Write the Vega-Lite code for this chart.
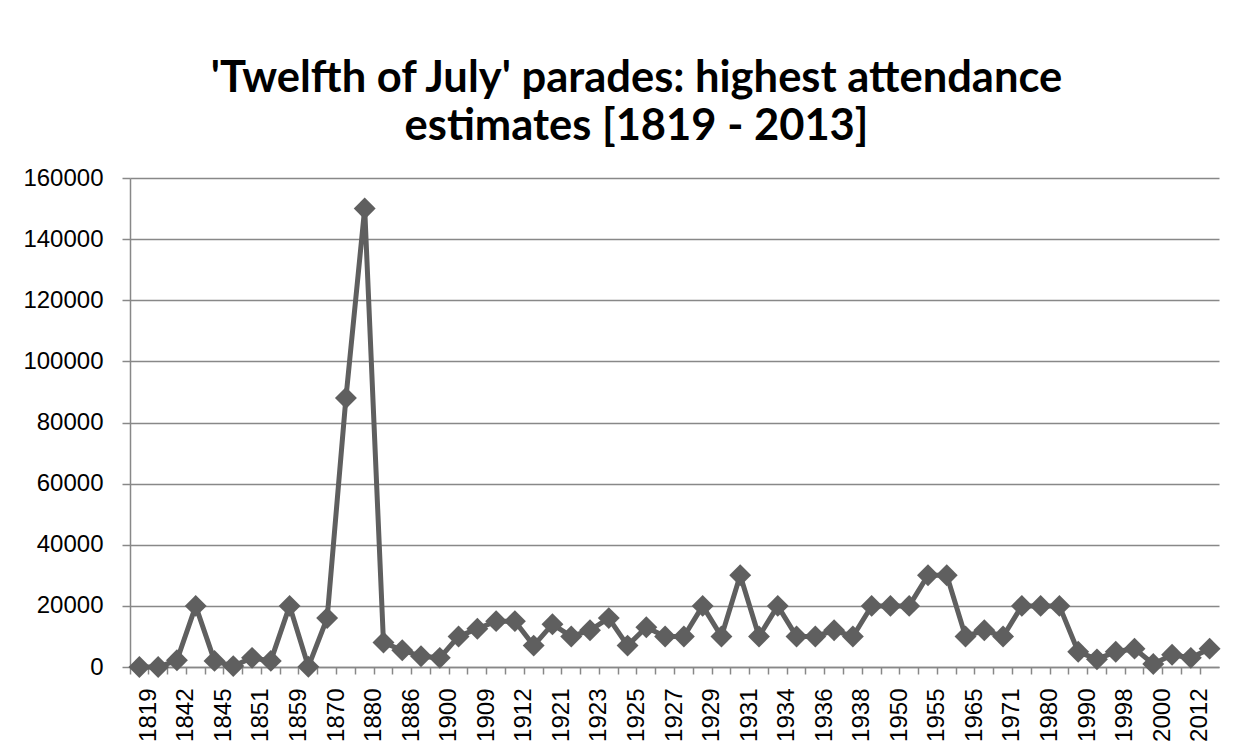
{
  "$schema": "https://vega.github.io/schema/vega-lite/v6.json",
  "width": 1089,
  "height": 489,
  "autosize": {"type": "none"},
  "padding": {"left": 130, "top": 178, "right": 28, "bottom": 86},
  "background": "white",
  "title": {
    "text": ["'Twelfth of July' parades: highest attendance", "estimates [1819 - 2013]"],
    "font": "Lato",
    "fontWeight": "bold",
    "fontSize": 43.5,
    "lineHeight": 48,
    "color": "#000000",
    "anchor": "middle",
    "dx": -38,
    "offset": 17
  },
  "config": {
    "view": {"stroke": null},
    "axis": {"labelFont": "Liberation Sans", "labelFontSize": 24, "labelColor": "#000000"}
  },
  "data": {
    "values": [
      {"year": "1819", "attendance": 0},
      {"year": "1835", "attendance": 0},
      {"year": "1842", "attendance": 2200},
      {"year": "1843", "attendance": 20000},
      {"year": "1845", "attendance": 2000},
      {"year": "1849", "attendance": 300},
      {"year": "1851", "attendance": 3000},
      {"year": "1857", "attendance": 2000},
      {"year": "1859", "attendance": 20000},
      {"year": "1864", "attendance": 100},
      {"year": "1870", "attendance": 16000},
      {"year": "1875", "attendance": 88000},
      {"year": "1880", "attendance": 150000},
      {"year": "1883", "attendance": 8000},
      {"year": "1886", "attendance": 5500},
      {"year": "1892", "attendance": 3500},
      {"year": "1900", "attendance": 3000},
      {"year": "1905", "attendance": 10000},
      {"year": "1909", "attendance": 12500},
      {"year": "1910", "attendance": 15000},
      {"year": "1912", "attendance": 15000},
      {"year": "1920", "attendance": 7000},
      {"year": "1921", "attendance": 14000},
      {"year": "1922", "attendance": 10000},
      {"year": "1923", "attendance": 12000},
      {"year": "1924", "attendance": 16000},
      {"year": "1925", "attendance": 7000},
      {"year": "1926", "attendance": 13000},
      {"year": "1927", "attendance": 10000},
      {"year": "1928", "attendance": 10000},
      {"year": "1929", "attendance": 20000},
      {"year": "1930", "attendance": 10000},
      {"year": "1931", "attendance": 30000},
      {"year": "1932", "attendance": 10000},
      {"year": "1934", "attendance": 20000},
      {"year": "1935", "attendance": 10000},
      {"year": "1936", "attendance": 10000},
      {"year": "1937", "attendance": 12000},
      {"year": "1938", "attendance": 10000},
      {"year": "1939", "attendance": 20000},
      {"year": "1950", "attendance": 20000},
      {"year": "1952", "attendance": 20000},
      {"year": "1955", "attendance": 30000},
      {"year": "1960", "attendance": 30000},
      {"year": "1965", "attendance": 10000},
      {"year": "1970", "attendance": 12000},
      {"year": "1971", "attendance": 10000},
      {"year": "1975", "attendance": 20000},
      {"year": "1980", "attendance": 20000},
      {"year": "1985", "attendance": 20000},
      {"year": "1990", "attendance": 5000},
      {"year": "1995", "attendance": 2500},
      {"year": "1998", "attendance": 5000},
      {"year": "1999", "attendance": 6000},
      {"year": "2000", "attendance": 1000},
      {"year": "2010", "attendance": 4000},
      {"year": "2012", "attendance": 3000},
      {"year": "2013", "attendance": 6000}
    ]
  },
  "encoding": {
    "x": {
      "field": "year",
      "type": "ordinal",
      "sort": null,
      "scale": {"type": "band", "paddingInner": 0, "paddingOuter": 0},
      "axis": {
        "title": null,
        "bandPosition": 0,
        "labelAngle": -90,
        "labelAlign": "right",
        "labelBaseline": "middle",
        "labelOffset": 9.4,
        "labelPadding": 14,
        "labelExpr": "indexof(['1819','1842','1845','1851','1859','1870','1880','1886','1900','1909','1912','1921','1923','1925','1927','1929','1931','1934','1936','1938','1950','1955','1965','1971','1980','1990','1998','2000','2012'], datum.value) >= 0 ? datum.value : ''",
        "grid": false,
        "ticks": true,
        "tickSize": 7,
        "tickColor": "#888888",
        "tickWidth": 1.5,
        "domainColor": "#888888",
        "domainWidth": 1.5
      }
    },
    "y": {
      "field": "attendance",
      "type": "quantitative",
      "scale": {"domain": [0, 160000], "nice": false},
      "axis": {
        "title": null,
        "values": [0, 20000, 40000, 60000, 80000, 100000, 120000, 140000, 160000],
        "format": "d",
        "grid": true,
        "gridColor": "#888888",
        "gridWidth": 1.5,
        "tickSize": 8,
        "tickColor": "#888888",
        "tickWidth": 1.5,
        "domainColor": "#888888",
        "domainWidth": 1.5,
        "labelPadding": 19
      }
    }
  },
  "layer": [
    {"mark": {"type": "line", "color": "#5f5f5f", "strokeWidth": 5}},
    {"mark": {"type": "point", "shape": "diamond", "filled": true, "color": "#5f5f5f", "opacity": 1, "size": 480}}
  ]
}
